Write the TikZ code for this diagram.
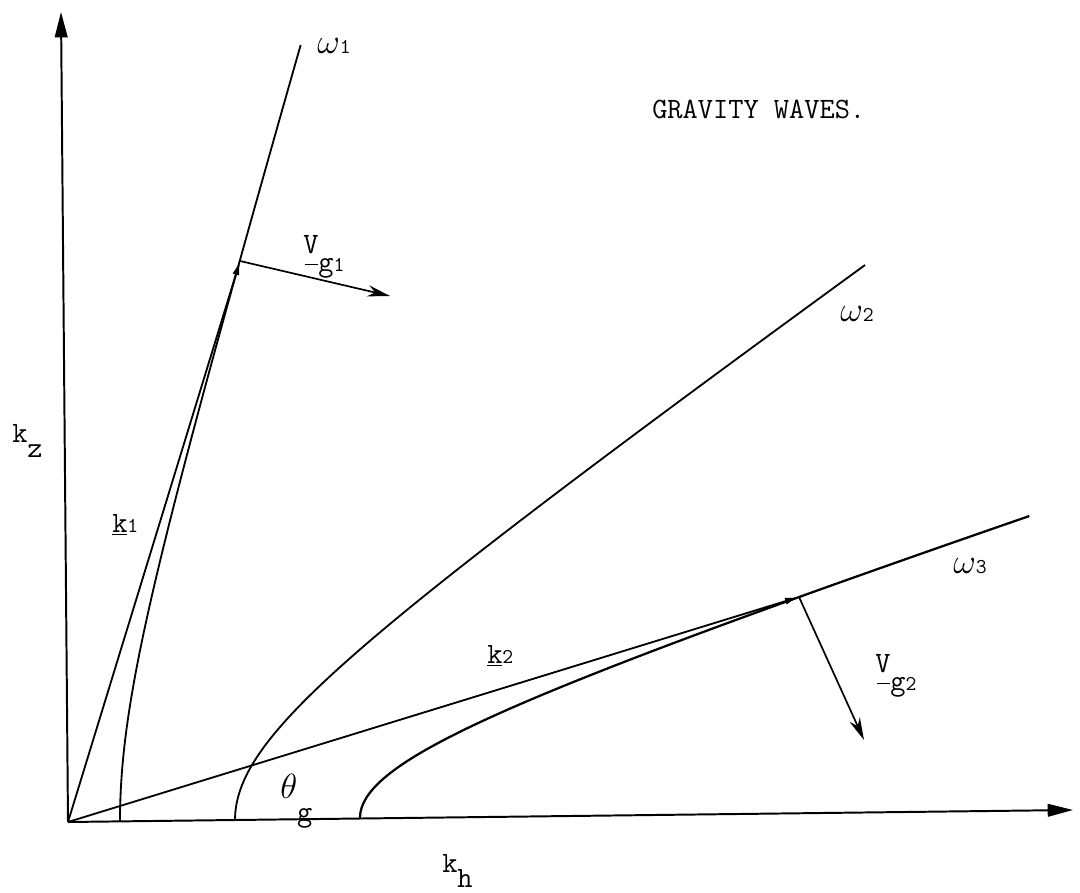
\documentclass[tikz,border=0pt]{standalone}
\usepackage{tikz}
\usetikzlibrary{arrows.meta}
\newcommand{\smalldig}[1]{{\fontsize{15}{17}\selectfont#1}}
\newcommand{\bigomega}{{\fontsize{26}{28}\selectfont$\omega$}}
\newcommand{\lowsub}[1]{\raisebox{-11pt}{#1}}
\newcommand{\velgrp}[1]{V\raisebox{-13.5pt}{\llap{\rule[5pt]{0.45em}{0.9pt}}g\smalldig{#1}}}
\tikzset{
  axisline/.style={-{Triangle[length=18pt,width=9pt]},line width=1.4pt},
  omegacurve/.style={line width=1.3pt,smooth},
  wavevec/.style={-{Latex[length=10pt,width=5pt]},line width=1.3pt},
  groupvel/.style={-{Stealth[length=16pt,width=8pt]},line width=1.2pt},
  lbl/.style={font=\fontsize{21}{25}\selectfont\ttfamily,inner sep=0pt,anchor=base west}
}
\begin{document}
\begin{tikzpicture}[x=0.025cm,y=-0.025cm]
  \useasboundingbox (0,0) rectangle (1080,893);
  \coordinate (O) at (68,822);
  \coordinate (kzend) at (61,12);
  \coordinate (khend) at (1073,810);
  \coordinate (P1) at (240,261);
  \coordinate (P2) at (799,597);
  \coordinate (vg1end) at (390,296);
  \coordinate (vg2end) at (864,740);
  \draw[axisline] (O) -- (kzend);
  \draw[axisline] (O) -- (khend);
  \draw[omegacurve] plot[domain=0:7.76,samples=70] ({68+100*sqrt(0.52^2+0.0854*\x^2)},{821-100*\x});
  \draw[omegacurve] plot[domain=0:5.55,samples=70] ({68+100*sqrt(1.67^2+1.972*\x^2)},{820-100*\x});
  \draw[omegacurve,line width=1.6pt] plot[domain=0:3.02,samples=70] ({68+100*sqrt(2.92^2+9.2*\x^2)},{818-100*\x});
  \draw[wavevec] (O) -- (P1);
  \draw[wavevec] (O) -- (P2);
  \draw[groupvel] (P1) -- (vg1end);
  \draw[groupvel] (P2) -- (vg2end);
  \node[lbl] (title) at (652,119) {GRAVITY WAVES.};
  \node[lbl] (omega1) at (317,54) {\bigomega\smalldig{1}};
  \node[lbl] (omega2) at (840,322) {\bigomega\smalldig{2}};
  \node[lbl] (omega3) at (953,573) {\bigomega\smalldig{3}};
  \node[lbl] (kzlbl) at (12,442) {k\lowsub{z}};
  \node[lbl] (khlbl) at (442,872) {k\lowsub{h}};
  \node[lbl] (k1lbl) at (112,532) {\underline{k}\smalldig{1}};
  \node[lbl] (k2lbl) at (487,663) {\underline{k}\smalldig{2}};
  \node[lbl] (vg1lbl) at (303,253) {\velgrp{1}};
  \node[lbl] (vg2lbl) at (875,672) {\velgrp{2}};
  \node[lbl] (thetag) at (280,798) {{\fontsize{24}{26}\selectfont$\theta$}\raisebox{-17pt}{g}};
\end{tikzpicture}
\end{document}
